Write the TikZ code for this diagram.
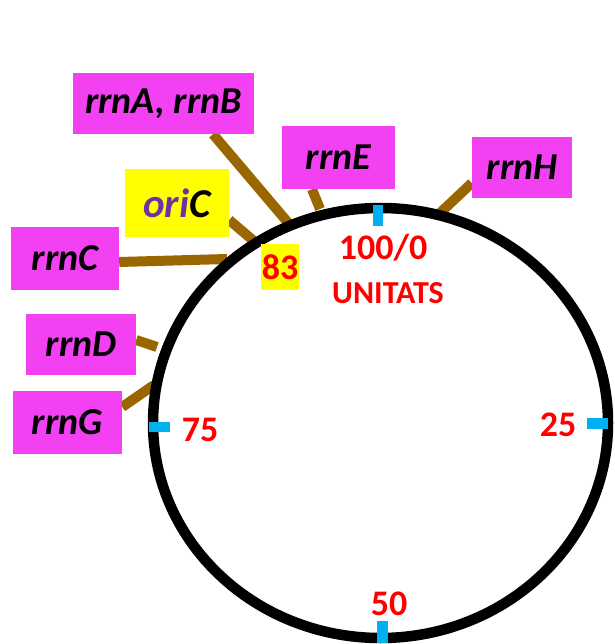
\documentclass[tikz,border=0pt]{standalone}
\usepackage{fontspec}
\setmainfont{Carlito}
\usetikzlibrary{backgrounds}
\definecolor{mag}{RGB}{243,64,243}
\definecolor{brn}{RGB}{153,102,0}
\definecolor{tickblue}{RGB}{0,176,240}
\definecolor{oripurple}{RGB}{112,48,160}
\definecolor{ylw}{RGB}{255,255,0}
\definecolor{rd}{RGB}{255,0,0}
\begin{document}
\begin{tikzpicture}[x=1pt,y=-1pt,
  lab/.style={fill=mag, inner sep=0pt, font=\fontsize{38}{38}\selectfont\bfseries\itshape},
  conn/.style={draw=brn, line width=10pt},
  num/.style={text=rd, inner sep=0pt, font=\fontsize{36}{36}\selectfont\bfseries},
  tickmark/.style={fill=tickblue}]
\useasboundingbox (0,0) rectangle (614,644);
% ring
\draw[line width=10.5pt] (380.5,423) ellipse [x radius=227.5, y radius=215];
% ticks
\fill[tickmark] (373,205) rectangle (383,226);
\fill[tickmark] (149,422) rectangle (170,432);
\fill[tickmark] (587,418) rectangle (608,429);
\fill[tickmark] (377,621) rectangle (388,643);
% labels
\node[lab, minimum width=181pt, minimum height=61pt] (rrnAB) at (163.5,103.5) {rrnA, rrnB};
\node[lab, fill=ylw, minimum width=104pt, minimum height=68pt, font=\fontsize{41}{41}\selectfont\bfseries\itshape] (oriC) at (177,203) {\textcolor{oripurple}{ori}C};
\node[lab, minimum width=108pt, minimum height=63pt] (rrnC) at (65,258.5) {rrnC};
\node[lab, minimum width=113pt, minimum height=63pt] (rrnE) at (338.5,157.5) {rrnE};
\node[lab, minimum width=100pt, minimum height=61pt] (rrnH) at (522,167.5) {rrnH};
\node[lab, minimum width=110pt, minimum height=61pt] (rrnD) at (81,344.5) {rrnD};
\node[lab, minimum width=109pt, minimum height=63pt] (rrnG) at (67.5,422.5) {rrnG};
\node[num, fill=ylw, minimum width=38pt, minimum height=46pt] (n83) at (280,267) {83};
\node[num] (n100) at (383,248) {100/0};
\node[num, font=\fontsize{32}{32}\selectfont\bfseries] (unitats) at (388,293) {UNITATS};
\node[num] (n75) at (200,430) {75};
\node[num] (n25) at (558,425) {25};
\node[num] (n50) at (389,604) {50};
% connector ends on the ring
\coordinate (pAB) at (290,225);
\coordinate (pOri) at (255,242);
\coordinate (pC) at (227,259);
\coordinate (pE) at (320,209);
\coordinate (pH) at (440,213);
\coordinate (pD) at (157,347);
\coordinate (pG) at (154,385);
\begin{scope}[on background layer]
\draw[conn] ([xshift=49.5pt]rrnAB.south) -- (pAB);
\draw[conn] ([yshift=-17pt]oriC.east) -- (pOri);
\draw[conn] ([yshift=-3.5pt]rrnC.east) -- (pC);
\draw[conn] ([xshift=-26.5pt]rrnE.south) -- (pE);
\draw[conn] ([yshift=-15.5pt]rrnH.west) -- (pH);
\draw[conn] ([yshift=4.5pt]rrnD.east) -- (pD);
\draw[conn] ([yshift=15.5pt]rrnG.east) -- (pG);
\end{scope}
\end{tikzpicture}
\end{document}
